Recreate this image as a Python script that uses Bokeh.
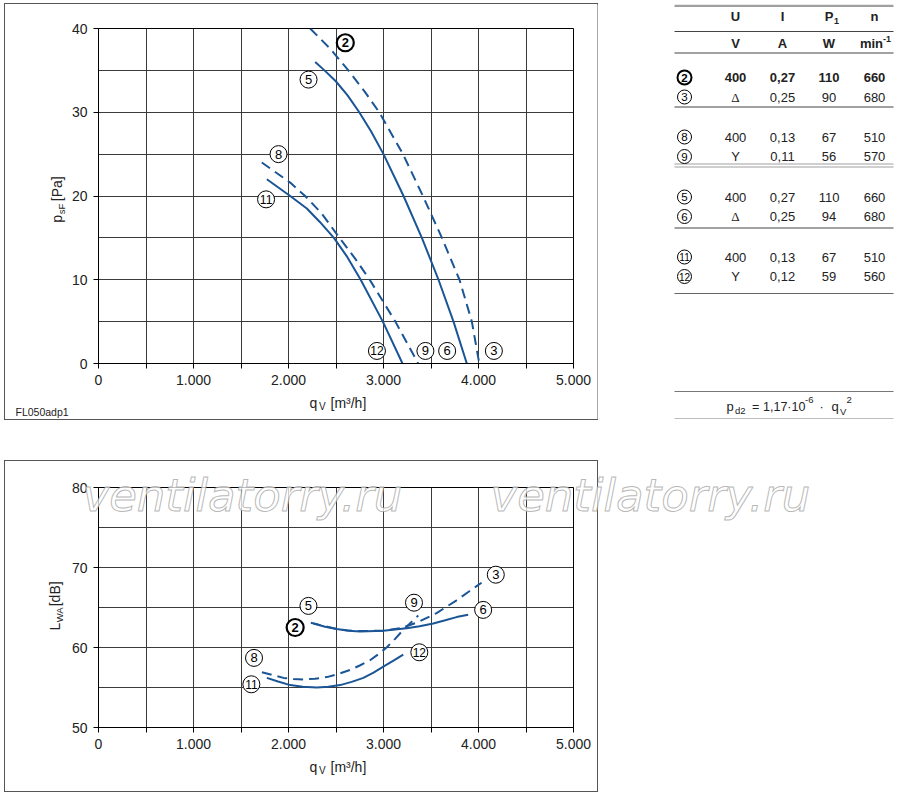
import math
from bokeh.plotting import figure
from bokeh.models import Range1d, FixedTicker, Spacer, ColumnDataSource
from bokeh.layouts import column, row
from bokeh.embed import file_html
from bokeh.resources import INLINE
from bokeh.core.properties import value

FONT = "Liberation Sans"
BLUE = "#1a5596"
GRID = "#3a3a3a"
TXT = "#222222"
BOX = {"outline": "1px solid #555555", "outline-offset": "0px"}

# ---------------- data ----------------
q_ticks = [0, 1000, 2000, 3000, 4000, 5000]
q_tick_labels = ["0", "1.000", "2.000", "3.000", "4.000", "5.000"]
q_grid = [0, 500, 1000, 1500, 2000, 2500, 3000, 3500, 4000, 4500, 5000]
p_ticks = [0, 10, 20, 30, 40]
p_grid = [0, 5, 10, 15, 20, 25, 30, 35, 40]
L_ticks = [50, 60, 70, 80]
L_grid = [50, 55, 60, 65, 70, 75, 80]

# pressure curves  (q in m3/h, p in Pa)
p2_q = [2228, 2430, 2630, 2800, 2955, 3080, 3205, 3415, 3615, 3800, 3930, 4008]
p2_p = [40.0, 37.7, 35.0, 32.5, 30.0, 27.5, 25.0, 20.0, 15.0, 10.0, 5.0, 0.0]
p5_q = [2281, 2379, 2498, 2620, 2745, 2870, 3000, 3211, 3404, 3579, 3737, 3877]
p5_p = [36.0, 35.0, 33.7, 32.05, 30.0, 27.7, 25.0, 20.0, 15.0, 10.0, 5.0, 0.0]
p8_q = [1719, 2018, 2175, 2350, 2537, 2700, 2855, 3125, 3365]
p8_p = [24.0, 21.6, 20.0, 17.9, 15.0, 12.55, 10.0, 5.0, 0.0]
p11_q = [1772, 2018, 2193, 2330, 2478, 2620, 2760, 2993, 3200]
p11_p = [22.0, 20.0, 18.5, 16.9, 15.0, 12.7, 10.0, 5.0, 0.0]

# sound power curves (q in m3/h, L in dB)
L2_q = [2235, 2473, 2610, 2753, 2998, 3173, 3349, 3559, 3769, 3900, 4032]
L2_L = [63.1, 62.4, 62.15, 62.05, 62.1, 62.4, 63.1, 64.3, 65.9, 67.0, 68.1]
L5_q = [2263, 2385, 2508, 2630, 2753, 2998, 3243, 3380, 3524, 3650, 3769, 3891]
L5_L = [63.0, 62.6, 62.3, 62.1, 62.0, 62.1, 62.4, 62.65, 63.0, 63.4, 63.8, 64.1]
L8_q = [1720, 1947, 2050, 2158, 2280, 2403, 2525, 2648, 2750, 2858, 2945, 3033, 3120, 3208, 3366]
L8_L = [56.9, 56.2, 56.05, 56.0, 56.1, 56.3, 56.7, 57.2, 57.75, 58.4, 59.15, 60.0, 61.05, 62.2, 64.0]
L11_q = [1772, 1890, 2018, 2150, 2298, 2420, 2543, 2665, 2788, 2895, 2998, 3105, 3208]
L11_L = [56.2, 55.75, 55.3, 55.1, 55.0, 55.1, 55.3, 55.7, 56.2, 56.85, 57.6, 58.35, 59.1]

# curve markers
top_lbl_text = ["2", "5", "8", "11", "12", "9", "6", "3"]
top_lbl_q = [2598, 2211, 1895, 1764, 2931, 3441, 3670, 4162]
top_lbl_p = [38.3, 33.9, 25.0, 19.6, 1.5, 1.5, 1.5, 1.5]
bot_lbl_text = ["5", "2", "8", "11", "9", "3", "6", "12"]
bot_lbl_q = [2210, 2070, 1637, 1609, 3321, 4182, 4049, 3377]
bot_lbl_L = [65.2, 62.5, 58.7, 55.4, 65.6, 69.1, 64.7, 59.4]

# table
tbl_head = ["U", "I", "P", "n"]
tbl_units = ["V", "A", "W", "min"]
tbl_ids = ["2", "3", "8", "9", "5", "6", "11", "12"]
tbl_U = ["400", "Δ", "400", "Y", "400", "Δ", "400", "Y"]
tbl_I = ["0,27", "0,25", "0,13", "0,11", "0,27", "0,25", "0,13", "0,12"]
tbl_P = ["110", "90", "67", "56", "110", "94", "67", "59"]
tbl_n = ["660", "680", "510", "570", "660", "680", "510", "560"]

code_text = "FL050adp1"
watermark = "ventilatorry.ru"


# ---------------- helpers ----------------
def blank(w, h, xr, yr, **kw):
    f = figure(width=w, height=h, x_range=Range1d(*xr), y_range=Range1d(*yr),
               toolbar_location=None, output_backend="svg", min_border=0,
               min_border_left=0, min_border_right=0, min_border_top=0, min_border_bottom=0,
               x_axis_location=None, y_axis_location=None, **kw)
    f.outline_line_color = None
    f.xgrid.visible = False
    f.ygrid.visible = False
    return f


def strip(w, h, xr, yr):
    return blank(w, h, xr, yr, background_fill_color="white", border_fill_color="white")


def chart(width, height, mbl, mbr, mbt, mbb, yr, yticks, ygrid):
    p = figure(width=width, height=height, x_range=Range1d(0, 5000), y_range=Range1d(*yr),
               toolbar_location=None, output_backend="svg",
               min_border_left=mbl, min_border_right=mbr, min_border_top=mbt, min_border_bottom=mbb,
               background_fill_color="white", border_fill_color="white")
    p.outline_line_color = "black"
    p.outline_line_width = 1
    p.xaxis.ticker = FixedTicker(ticks=q_grid)
    p.xaxis.major_label_overrides = {t: (q_tick_labels[q_ticks.index(t)] if t in q_ticks else "")
                                     for t in q_grid}
    p.yaxis.ticker = FixedTicker(ticks=yticks)
    for ax in (p.xaxis[0], p.yaxis[0]):
        ax.axis_line_color = "black"
        ax.major_tick_line_color = "black"
        ax.major_tick_in = 0
        ax.major_tick_out = 5
        ax.minor_tick_line_color = None
        ax.major_label_text_font = FONT
        ax.major_label_text_font_size = "14px"
        ax.major_label_text_color = TXT
        ax.major_label_standoff = 6
    p.xgrid.ticker = FixedTicker(ticks=q_grid)
    p.ygrid.ticker = FixedTicker(ticks=ygrid)
    p.grid.grid_line_color = GRID
    p.grid.grid_line_width = 1
    return p


def markers(p, xs, ys, texts):
    src = ColumnDataSource(dict(
        x=xs, y=ys, t=texts,
        lw=[2.2 if s == "2" else 1.0 for s in texts],
        fs=["12px" if len(s) > 1 else "13px" for s in texts],
        fst=["bold" if s == "2" else "normal" for s in texts]))
    p.scatter("x", "y", source=src, marker="circle", size=17, fill_color="white",
              line_color="black", line_width="lw")
    p.text("x", "y", text="t", source=src, text_align="center", text_baseline="middle",
           text_font=value(FONT), text_font_size="fs", text_font_style="fst", text_color="black")


def pieces(f, xs, ys, texts, sizes, angle=0.0):
    f.text(x="x", y="y", text="t", angle=angle,
           source=ColumnDataSource(dict(x=xs, y=ys, t=texts, fs=sizes)),
           text_align="left", text_baseline="middle", text_font=value(FONT),
           text_font_size="fs", text_color=TXT)


A90 = math.pi / 2

# ---------------- top panel ----------------
top = chart(529, 388, 30, 24, 24, 29, (0, 40), p_ticks, p_grid)
top.line(p2_q, p2_p, line_color=BLUE, line_width=2, line_dash="10 6")
top.line(p5_q, p5_p, line_color=BLUE, line_width=2)
top.line(p8_q, p8_p, line_color=BLUE, line_width=2, line_dash="10 6")
top.line(p11_q, p11_p, line_color=BLUE, line_width=2)
markers(top, top_lbl_q, top_lbl_p, top_lbl_text)

top_y = strip(63, 388, (5, 68), (392, 4))
pieces(top_y, [56.5, 60.5, 56.5], [229, 219, 204], ["p", "sF", "[Pa]"], ["14px", "9.5px", "14px"], A90)

top_x = strip(592, 27, (5, 597), (419, 392))
pieces(top_x, [309, 318.5, 330], [402, 406, 402], ["q", "V", "[m³/h]"], ["14px", "10px", "14px"])
pieces(top_x, [15], [411], [code_text], ["10.5px"])

top_panel = column(row(top_y, top), top_x, styles=BOX)

# ---------------- table ----------------
tab = strip(298, 415, (598, 896), (419, 4))

col_x = [685, 736, 783, 829.5, 875]
head_y, unit_y = 16, 42.5
group_top = [77, 136.5, 196.5, 256.5]
row_gap = 19.5
row_y = [group_top[i // 2] + row_gap * (i % 2) for i in range(len(tbl_ids))]

rule_y = [5.2, 31, 52.5, 106.5, 163.5, 166.5, 227.5, 293, 391, 418.5]
rule_c = ["#a0a0a0", "#444444", "#444444", "#444444", "#a0a0a0", "#a0a0a0",
          "#444444", "#666666", "#777777", "#777777"]
rule_w = [2.5, 1, 1, 1, 1.2, 1.2, 1, 1, 1, 1]
tab.segment(x0=[675] * len(rule_y), y0=rule_y, x1=[894] * len(rule_y), y1=rule_y,
            line_color=rule_c, line_width=rule_w)

tab.text(x=col_x[1:], y=[head_y] * 4, text=tbl_head, text_align="center", text_baseline="middle",
         text_font=value(FONT), text_font_size="13px", text_font_style="bold", text_color=TXT)
tab.text(x=[834.5], y=[20], text=["1"], text_align="left", text_baseline="middle",
         text_font=value(FONT), text_font_size="9px", text_font_style="bold", text_color=TXT)
tab.text(x=col_x[1:4] + [872], y=[unit_y] * 4, text=tbl_units, text_align="center",
         text_baseline="middle", text_font=value(FONT), text_font_size="13px",
         text_font_style="bold", text_color=TXT)
tab.text(x=[883.5], y=[38.5], text=["-1"], text_align="left", text_baseline="middle",
         text_font=value(FONT), text_font_size="9px", text_font_style="bold", text_color=TXT)

vx, vy, vt, vs, vf = [], [], [], [], []
for i in range(len(tbl_ids)):
    for j, col in enumerate((tbl_U, tbl_I, tbl_P, tbl_n)):
        vx.append(col_x[j + 1])
        vy.append(row_y[i])
        vt.append(col[i])
        vs.append("bold" if i == 0 else "normal")
        vf.append("Liberation Serif" if col[i] == "Δ" else FONT)
tab.text(x="x", y="y", text="t", source=ColumnDataSource(dict(x=vx, y=vy, t=vt, s=vs, f=vf)),
         text_align="center", text_baseline="middle", text_font="f", text_font_size="13px",
         text_font_style="s", text_color=TXT)

id_src = ColumnDataSource(dict(
    x=[col_x[0]] * len(tbl_ids), y=row_y, t=tbl_ids,
    lw=[2.0 if s == "2" else 1.0 for s in tbl_ids],
    fs=["10px" if len(s) > 1 else "11.5px" for s in tbl_ids],
    fst=["bold" if s == "2" else "normal" for s in tbl_ids]))
tab.scatter("x", "y", source=id_src, marker="circle", size=14, fill_color="white",
            line_color="black", line_width="lw")
tab.text("x", "y", text="t", source=id_src, text_align="center", text_baseline="middle",
         text_font=value(FONT), text_font_size="fs", text_font_style="fst", text_color="black")

f_text = ["p", "d2", "=", "1,17·10", "-6", "·", "q", "V", "2"]
f_x = [727, 735.5, 752.5, 763.5, 805.5, 820, 832, 840.5, 847]
f_y = [406, 409.5, 406, 406, 399.5, 406, 406, 410.5, 399]
f_fs = ["13px", "9.5px", "12.5px", "12.5px", "9.5px", "12.5px", "13px", "9.5px", "9.5px"]
pieces(tab, f_x, f_y, f_text, f_fs)

# ---------------- bottom panel ----------------
bot = chart(529, 293, 30, 24, 26, 27, (50, 80), L_ticks, L_grid)
bot.line(L2_q, L2_L, line_color=BLUE, line_width=2, line_dash="10 6")
bot.line(L5_q, L5_L, line_color=BLUE, line_width=2)
bot.line(L8_q, L8_L, line_color=BLUE, line_width=2, line_dash="10 6")
bot.line(L11_q, L11_L, line_color=BLUE, line_width=2)
markers(bot, bot_lbl_q, bot_lbl_L, bot_lbl_text)

bot_y = strip(63, 293, (5, 68), (754, 461))
pieces(bot_y, [54.5, 58.5, 54.5], [635.5, 625.5, 606], ["L", "WA", "[dB]"], ["14px", "9.5px", "14px"], A90)

bot_x = strip(592, 37, (5, 597), (791, 754))
pieces(bot_x, [309, 318.5, 330], [766, 770, 766], ["q", "V", "[m³/h]"], ["14px", "10px", "14px"])

bot_panel = column(row(bot_y, bot), bot_x, styles=BOX)

# ---------------- watermark overlay ----------------
wm = blank(750, 80, (78, 828), (525, 445), background_fill_color=None, border_fill_color=None,
           styles={"position": "absolute", "left": "78px", "top": "445px",
                   "z-index": "10", "pointer-events": "none"})
wm.text(x=[82, 490], y=[494.5, 494.5], text=[watermark, watermark], text_align="left",
        text_baseline="alphabetic", text_font=value("DejaVu Sans"), text_font_style="italic",
        text_font_size="45px", text_color="white", text_alpha=0.75,
        text_outline_color="#a0a0a0")

layout = column(Spacer(width=896, height=4),
                row(Spacer(width=5, height=415), top_panel, tab),
                Spacer(width=896, height=42),
                row(Spacer(width=5, height=330), bot_panel),
                wm)
open("out.html", "w").write(file_html(layout, INLINE))
